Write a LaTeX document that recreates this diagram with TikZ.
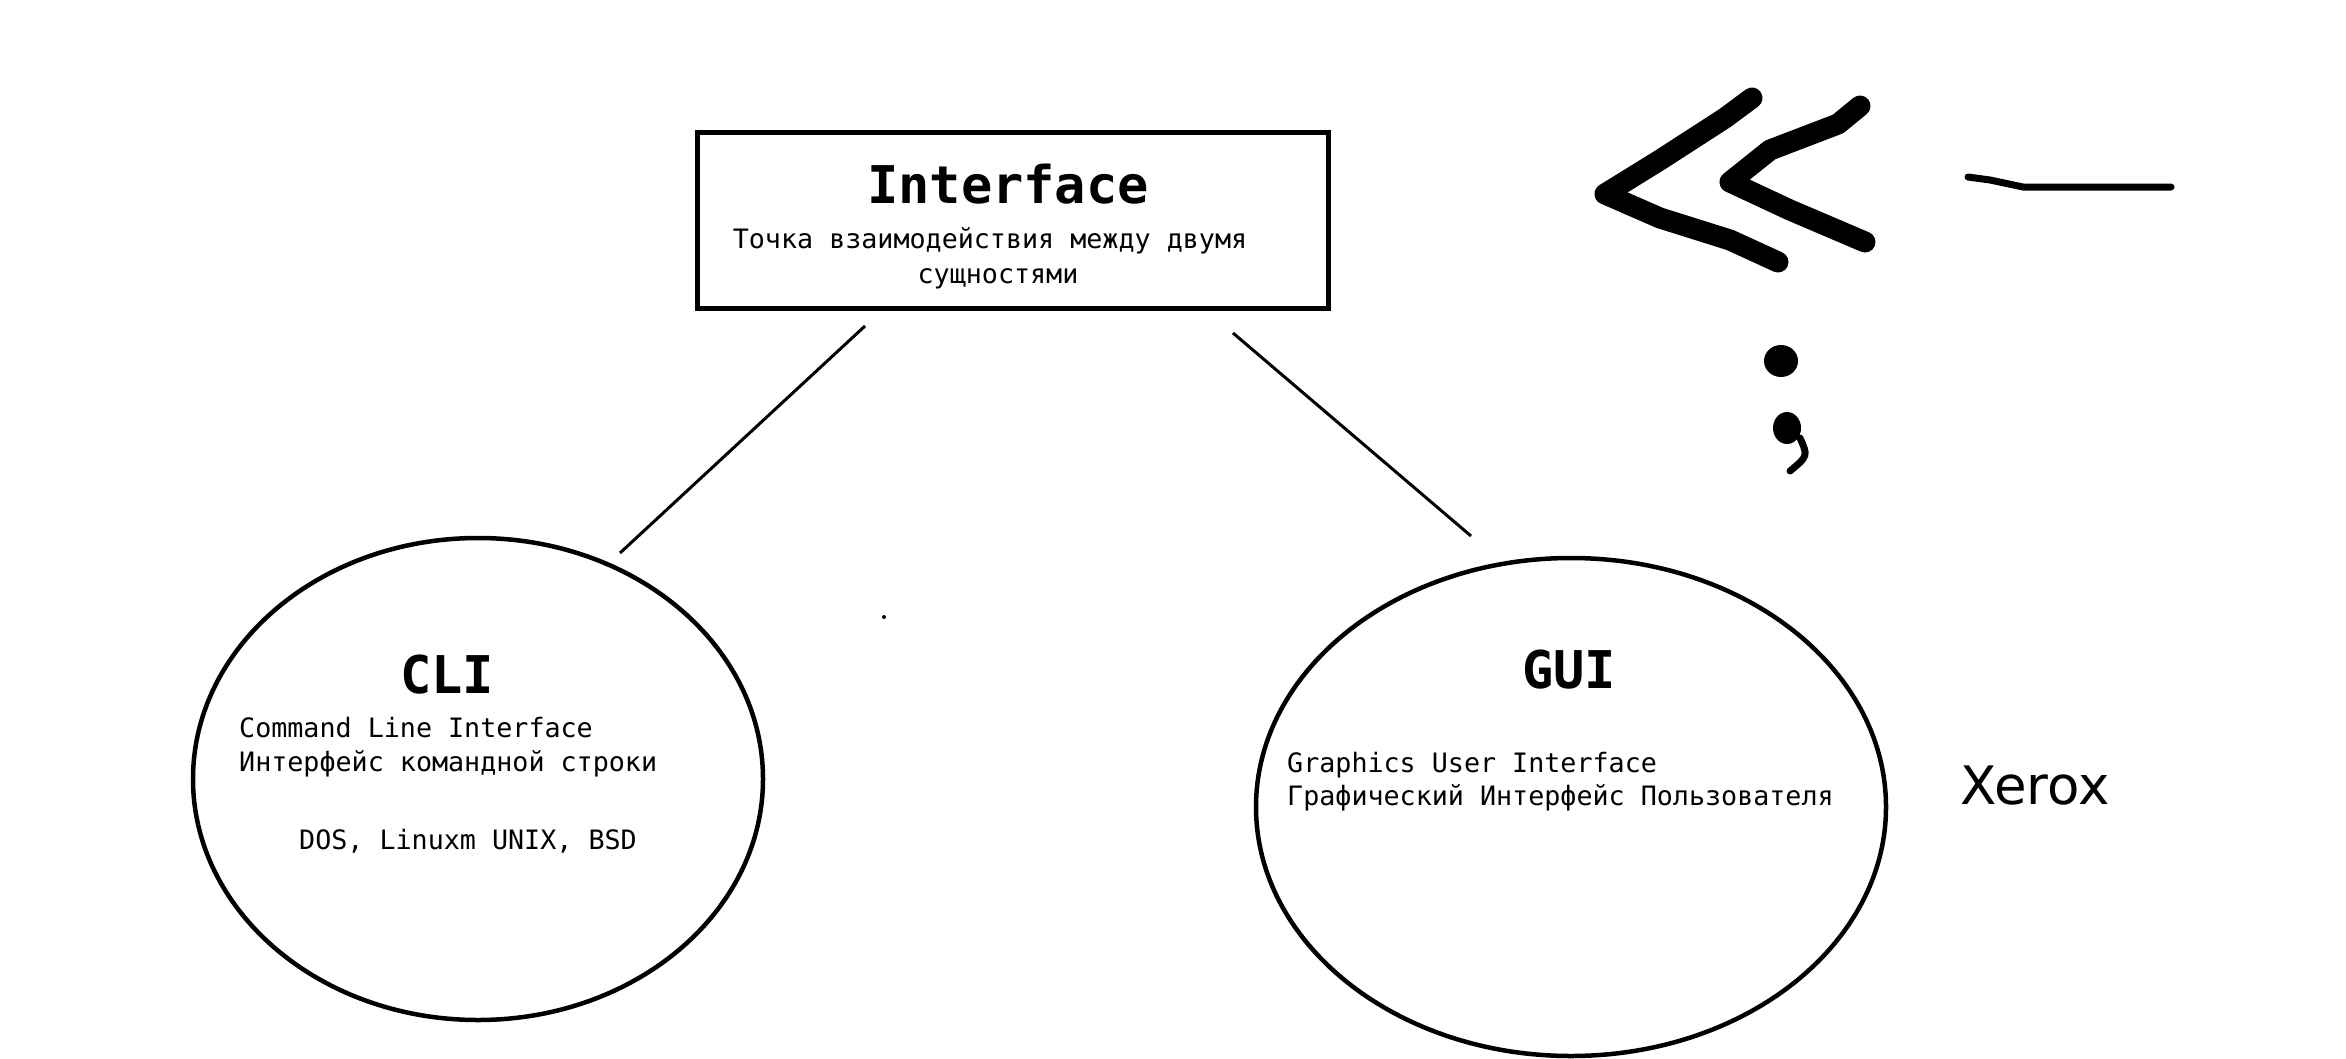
\documentclass[tikz,border=0pt]{standalone}
\usepackage{fontspec}
\setmonofont{DejaVu Sans Mono}
\newfontfamily\xeroxfont{DejaVu Sans}
\usetikzlibrary{shapes.geometric}

\begin{document}
\begin{tikzpicture}[x=1pt, y=-1pt,
    title/.style={font=\fontsize{52}{60}\selectfont\ttfamily\bfseries, inner sep=0pt, anchor=base},
    body/.style={font=\fontsize{26.7}{34}\selectfont\ttfamily, inner sep=0pt, anchor=base west},
    link/.style={line width=3pt},
    bubble/.style={draw, ellipse, line width=4.5pt, inner sep=0pt},
    scribble/.style={line width=21pt, line cap=round, line join=round}]
    %%Background
    \useasboundingbox[fill=white] (0,0) rectangle (2346,1058);

    %% Interface box
    \node[draw, line width=5pt, minimum width=631pt, minimum height=176pt] (iface) at (1012.5,220) {};
    \node[title] (iface title) at (1008,203) {Interface};
    \node[body, anchor=base] (iface line1) at (990,248) {Точка взаимодействия между двумя};
    \node[body, anchor=base] (iface line2) at (998,283) {сущностями};

    %% CLI
    \node[bubble, minimum width=570pt, minimum height=482pt] (cli) at (478,779) {};
    \node[title] (cli title) at (447,693) {CLI};
    \node[body] (cli line1) at (239,737) {Command Line Interface};
    \node[body] (cli line2) at (239,771) {Интерфейс командной строки};
    \node[body] (cli os) at (299,849) {DOS, Linuxm UNIX, BSD};

    %% GUI
    \node[bubble, minimum width=630pt, minimum height=498pt] (gui) at (1571,807) {};
    \node[title] (gui title) at (1569,688) {GUI};
    \node[body] (gui line1) at (1287,772) {Graphics User Interface};
    \node[body] (gui line2) at (1287,805) {Графический Интерфейс Пользователя};

    \node[font=\fontsize{53}{60}\selectfont\xeroxfont, inner sep=0pt, anchor=base west] (xerox) at (1960,804) {Xerox};

    %% links
    \coordinate (iface left) at (865,326);
    \coordinate (iface right) at (1233,333);
    \coordinate (cli top) at (620,553);
    \coordinate (gui top) at (1471,536);
    \draw[link] (iface left) to (cli top);
    \draw[link] (iface right) to (gui top);
    \fill (884,617) circle (2);

    %% scribbles
    \draw[scribble]
    (1752,98) to (1725,118) to (1660,160) to (1605,194)
    to (1660,218) to (1730,240) to (1778,262)
    ;
    \draw[scribble]
    (1860,106) to (1838,124) to (1770,150) to (1730,182)
    to (1790,210) to (1865,242)
    ;
    \draw[line width=7pt, line cap=round, line join=round]
    (1968,177) to (1990,180) to (2023,187) to (2171,187);
    \fill (1781,361) ellipse [x radius=17, y radius=16];
    \fill (1787,428) ellipse [x radius=14, y radius=16];
    \draw[line width=7pt, line cap=round] (1800,438) .. controls (1808,456) .. (1790,471);
\end{tikzpicture}
\end{document}
